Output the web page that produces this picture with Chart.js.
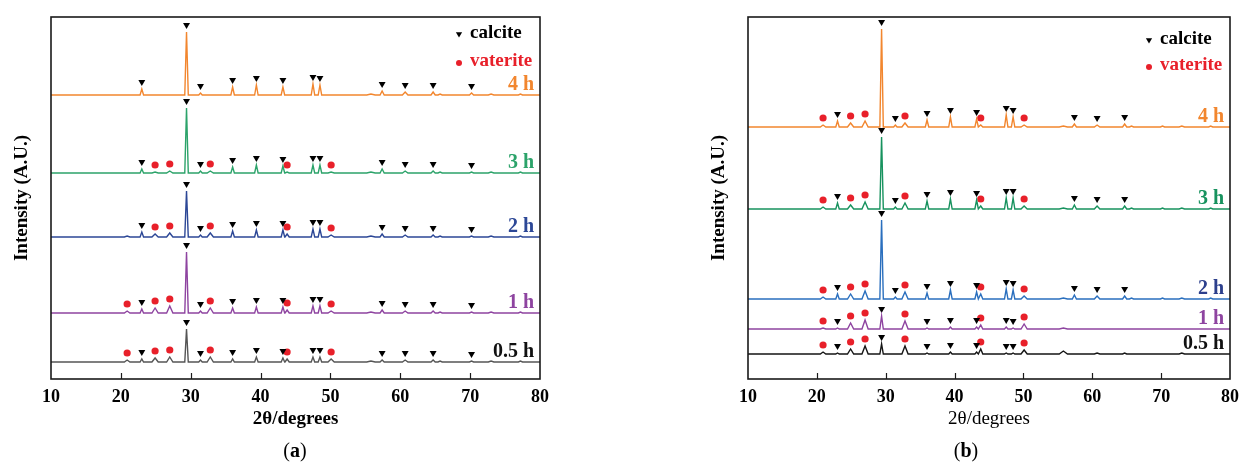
<!DOCTYPE html>
<html>
<head>
<meta charset="utf-8">
<script src="https://cdn.jsdelivr.net/npm/chart.js@4.4.1/dist/chart.umd.min.js"></script>
<style>
  html, body { margin: 0; padding: 0; background: #fff; }
  body { width: 1247px; height: 464px; position: relative; overflow: hidden; font-family: "Liberation Serif", serif; }
  .panel { position: absolute; top: 0; height: 464px; }
  #wrapA { left: 0; width: 600px; }
  #wrapB { left: 680px; width: 567px; }
  .cap { position: absolute; top: 438px; font-size: 20px; line-height: 24px; color: #000; transform: translateX(-50%); }
</style>
</head>
<body>
<div class="panel" id="wrapA"><canvas id="xrdA" width="600" height="464"></canvas></div>
<div class="panel" id="wrapB"><canvas id="xrdB" width="567" height="464"></canvas></div>
<div class="cap" style="left:295px">(<b>a</b>)</div>
<div class="cap" style="left:966px">(<b>b</b>)</div>
<script>
// reflection positions (2θ, degrees) and their half widths
const twoTheta  = [20.9, 23.0, 24.9, 27.0, 29.4, 31.4, 32.8, 36.0, 39.4, 43.2, 43.8, 47.5, 48.5, 50.1, 55.8, 57.4, 60.7, 64.7, 65.7, 70.2, 73.0, 77.2];
const peakWidth = [0.4, 0.25, 0.45, 0.45, 0.25, 0.25, 0.45, 0.25, 0.25, 0.25, 0.3, 0.25, 0.25, 0.45, 0.6, 0.3, 0.4, 0.3, 0.3, 0.3, 0.4, 0.3];

const times = ['0.5 h', '1 h', '2 h', '3 h', '4 h'];

// (a) stacking offsets and peak intensities
const offsetA = [17, 66, 142, 206, 284];
const peaksA05 = [2, 3, 4, 5, 33, 2, 5, 3, 5, 4, 3, 5, 5, 3, 1, 2, 2, 2, 1, 1, 1, 1];
const peaksA1  = [2, 4, 5, 7, 61, 2, 5, 5, 6, 6, 3, 7, 7, 2, 1, 3, 2, 2, 1, 1, 1, 1];
const peaksA2  = [1, 5, 3, 4, 46, 2, 4, 6, 7, 7, 3, 8, 8, 2, 1, 3, 2, 2, 1, 1, 1, 1];
const peaksA3  = [0, 4, 1, 2, 65, 2, 2, 6, 8, 7, 1, 8, 8, 1, 1, 4, 2, 2, 1, 1, 1, 1];
const peaksA4  = [0, 6, 0, 0, 63, 2, 0, 8, 10, 8, 0, 11, 10, 0, 1, 4, 3, 3, 1, 2, 1, 1];

// (b) stacking offsets and peak intensities
const offsetB = [25, 50, 80, 170, 252];
const peaksB05 = [2, 1, 5, 8, 10, 0, 8, 1, 2, 2, 5, 1, 1, 4, 3, 0, 1, 1, 0, 0, 1, 0];
const peaksB1  = [1, 1, 6, 9, 13, 0, 8, 1, 2, 2, 4, 2, 1, 5, 1, 0, 0, 0, 0, 0, 0, 0];
const peaksB2  = [2, 5, 5, 8, 79, 2, 7, 6, 9, 7, 5, 10, 9, 3, 1, 4, 3, 3, 1, 1, 1, 1];
const peaksB3  = [2, 6, 4, 7, 72, 2, 6, 8, 10, 9, 3, 11, 11, 3, 1, 4, 3, 3, 1, 1, 1, 1];
const peaksB4  = [2, 6, 4, 6, 98, 2, 4, 7, 10, 8, 2, 12, 10, 2, 1, 3, 2, 3, 1, 1, 1, 1];

// indexed phases
const calciteAll   = [23.0, 29.4, 31.4, 36.0, 39.4, 43.2, 47.5, 48.5, 57.4, 60.7, 64.7, 70.2];
const calciteB     = [23.0, 29.4, 31.4, 36.0, 39.4, 43.2, 47.5, 48.5, 57.4, 60.7, 64.7];
const calciteEarly = [23.0, 29.4, 36.0, 39.4, 43.2, 47.5, 48.5];
const vateriteAll  = [20.9, 24.9, 27.0, 32.8, 43.8, 50.1];
const vateriteMid  = [24.9, 27.0, 32.8, 43.8, 50.1];

const colorsA = ['#555555', '#8e44a0', '#2c4796', '#2ca36a', '#f2862e'];
const colorsB = ['#151515', '#8e44a0', '#2a6fbe', '#17925e', '#f2862e'];
const labelColorsA = ['#111111', '#8e44a0', '#2c4796', '#2ca36a', '#f2862e'];
const labelColorsB = ['#111111', '#8e44a0', '#2c3f8c', '#17925e', '#f2862e'];

const serif = 'Liberation Serif';

function profile(base, heights) {
  const pts = [{x: 10, y: base}];
  twoTheta.forEach((t, i) => {
    const h = heights[i];
    if (!h) return;
    const w = peakWidth[i];
    pts.push({x: t - w, y: base}, {x: t, y: base + h}, {x: t + w, y: base});
  });
  pts.push({x: 80, y: base});
  return pts;
}

function markers(base, heights, list) {
  return list.map(t => ({x: t, y: base + Math.max(heights[twoTheta.indexOf(t)], 1) + 7}));
}

function buildDatasets(offsets, peaks, colors, calc, vat) {
  const sets = [];
  peaks.forEach((hs, i) => {
    sets.push({
      type: 'line', label: times[i], data: profile(offsets[i], hs),
      borderColor: colors[i], borderWidth: 1.4, pointRadius: 0, tension: 0, fill: false
    });
    sets.push({
      type: 'scatter', data: markers(offsets[i], hs, calc[i]),
      pointStyle: 'triangle', rotation: 180, radius: 4, backgroundColor: '#000', borderWidth: 0
    });
    sets.push({
      type: 'scatter', data: markers(offsets[i], hs, vat[i]),
      pointStyle: 'circle', radius: 3.6, backgroundColor: '#e8202a', borderWidth: 0
    });
  });
  return sets;
}

// frame, inward ticks, series names and phase key
const decorations = {
  id: 'decorations',
  afterDraw(chart, args, opts) {
    const {ctx, chartArea: a, scales: {x, y}} = chart;
    ctx.save();
    ctx.strokeStyle = '#1a1a1a';
    ctx.lineWidth = 1.6;
    ctx.strokeRect(a.left, a.top, a.right - a.left, a.bottom - a.top);
    ctx.lineWidth = 1.2;
    for (let v = 20; v <= 70; v += 10) {
      const px = Math.round(x.getPixelForValue(v)) + 0.5;
      ctx.beginPath();
      ctx.moveTo(px, a.bottom);
      ctx.lineTo(px, a.bottom - 6);
      ctx.stroke();
    }
    ctx.font = 'bold 20px "' + serif + '"';
    ctx.textAlign = 'right';
    ctx.textBaseline = 'alphabetic';
    opts.offsets.forEach((o, i) => {
      ctx.fillStyle = opts.labelColors[i];
      ctx.fillText(times[i], a.right - 6, y.getPixelForValue(o) - 5);
    });
    const H = Chart.helpers;
    ctx.font = 'bold 19px "' + serif + '"';
    ctx.textAlign = 'left';
    ctx.textBaseline = 'middle';
    ctx.fillStyle = '#000';
    H.drawPoint(ctx, {pointStyle: 'triangle', rotation: 180, radius: 3.6}, a.right - 81, a.top + opts.keyY[0] + 1);
    ctx.fillText('calcite', a.right - 70, a.top + opts.keyY[0]);
    ctx.fillStyle = '#e8202a';
    H.drawPoint(ctx, {pointStyle: 'circle', radius: 3}, a.right - 81, a.top + opts.keyY[1] + 2);
    ctx.fillText('vaterite', a.right - 70, a.top + opts.keyY[1]);
    ctx.restore();
  }
};

function makeChart(id, datasets, yWidth, padRight, titlePad, titleWeight, offsets, labelColors, keyY) {
  return new Chart(document.getElementById(id), {
    data: {datasets: datasets},
    options: {
      responsive: false,
      animation: false,
      layout: {padding: {top: 17, right: padRight, bottom: 0, left: 0}},
      scales: {
        x: {
          type: 'linear', min: 10, max: 80,
          afterFit: s => { s.height = 85; },
          grid: {display: false, drawTicks: false},
          border: {display: false},
          ticks: {stepSize: 10, maxRotation: 0, padding: 8, color: '#000',
                  font: {family: serif, size: 18, weight: 'bold'}},
          title: {display: true, text: '2θ/degrees', color: '#000',
                  font: {family: serif, size: 19, weight: titleWeight}, padding: {top: 0, bottom: 34}}
        },
        y: {
          type: 'linear', min: 0, max: 362,
          afterFit: s => { s.width = yWidth; },
          grid: {display: false},
          border: {display: false},
          ticks: {display: false},
          title: {display: true, text: 'Intensity (A.U.)', color: '#000',
                  font: {family: serif, size: 19, weight: 'bold'}, padding: {top: titlePad, bottom: 0}}
        }
      },
      plugins: {
        legend: {display: false},
        tooltip: {enabled: false},
        decorations: {offsets: offsets, labelColors: labelColors, keyY: keyY}
      }
    },
    plugins: [decorations]
  });
}

makeChart('xrdA',
  buildDatasets(offsetA, [peaksA05, peaksA1, peaksA2, peaksA3, peaksA4], colorsA,
    [calciteAll, calciteAll, calciteAll, calciteAll, calciteAll],
    [vateriteAll, vateriteAll, vateriteMid, vateriteMid, []]),
  51, 60, 11, 'bold', offsetA, labelColorsA, [16, 44]);

makeChart('xrdB',
  buildDatasets(offsetB, [peaksB05, peaksB1, peaksB2, peaksB3, peaksB4], colorsB,
    [calciteEarly, calciteEarly, calciteB, calciteB, calciteB],
    [vateriteAll, vateriteAll, vateriteAll, vateriteAll, vateriteAll]),
  68, 9, 28, 'normal', offsetB, labelColorsB, [22, 48]);
</script>
</body>
</html>
